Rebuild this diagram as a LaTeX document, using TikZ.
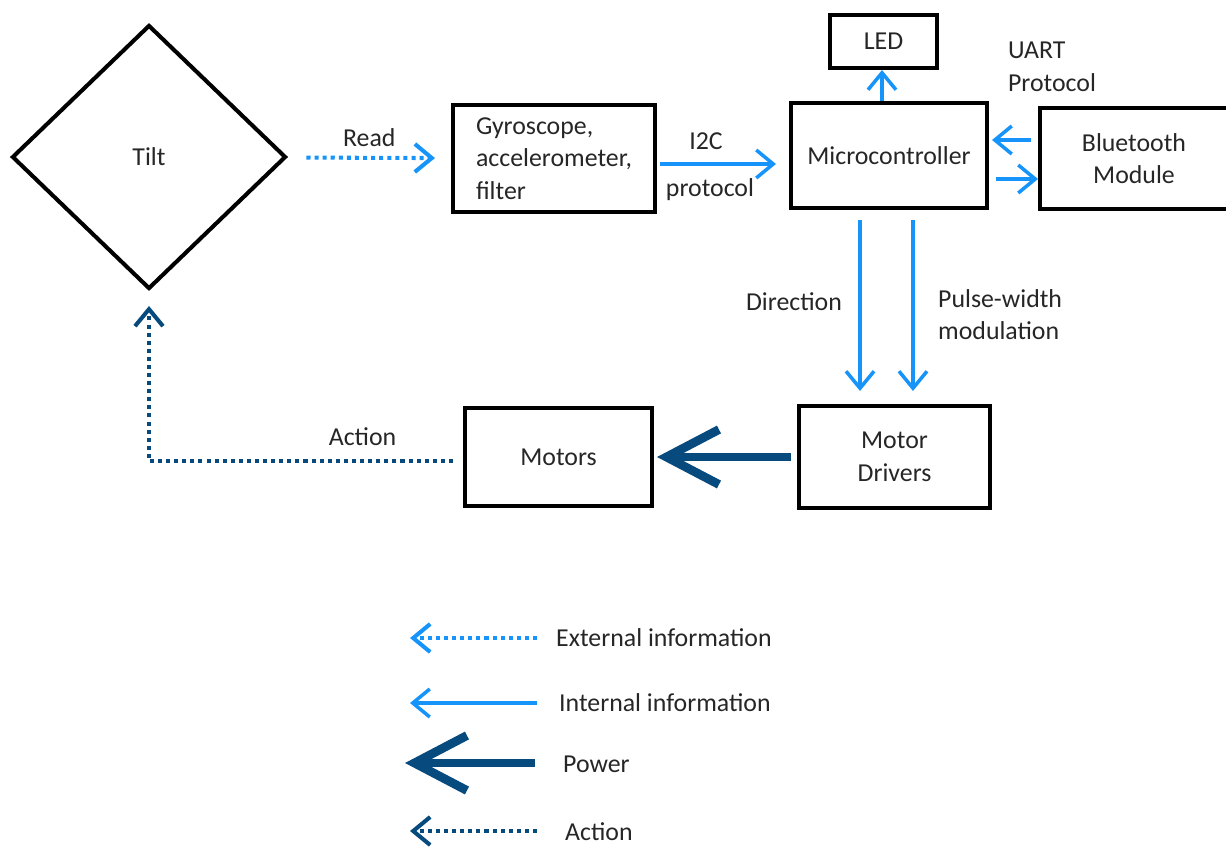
\documentclass[tikz,border=0pt]{standalone}
\usepackage{fontspec}
\setmainfont{Carlito}
\usepackage{tikz}
\usetikzlibrary{arrows.meta,positioning,shapes.geometric}
\definecolor{lightb}{RGB}{22,148,250}
\definecolor{darkb}{RGB}{6,74,126}
\tikzset{font=\fontsize{14.7}{18.5}\selectfont}
\tikzstyle{blk}=[draw=black,line width=2.3pt,rectangle,text=black!85,inner sep=0pt]
\tikzstyle{diam}=[draw=black,line width=2.3pt,diamond,text=black!85,inner sep=0pt,minimum width=5.48cm,minimum height=5.28cm]
\tikzstyle{lbl}=[text=black!85]
\tikzstyle{intarrow}=[draw=lightb,line width=2pt,-{Straight Barb[length=0.34cm,width=0.56cm]}]
\tikzstyle{extarrow}=[intarrow,dash pattern=on 2.3pt off 2.3pt,line width=2.3pt]
\tikzstyle{powarrow}=[draw=darkb,line width=5pt,-{Straight Barb[length=1.05cm,width=1.1cm]}]
\tikzstyle{actarrow}=[draw=darkb,line width=2.3pt,dash pattern=on 2.3pt off 2.3pt,-{Straight Barb[length=0.34cm,width=0.56cm]}]

\begin{document}
\begin{tikzpicture}[x=0.02cm,y=-0.02cm]
\useasboundingbox (0,0) rectangle (1226,848);
\node[diam] (tilt) at (149,157) {Tilt};
\node[blk,minimum width=4.04cm,minimum height=2.14cm,align=left] (gyro) at (554,158.5) {Gyroscope,\\accelerometer,\\filter};
\node[blk,minimum width=3.92cm,minimum height=2.1cm] (micro) at (889,155.5) {Microcontroller};
\node[blk,minimum width=2.14cm,minimum height=1.06cm] (led) at (883.5,41.5) {LED};
\node[blk,minimum width=3.76cm,minimum height=2.02cm,align=center] (bt) at (1134,158.5) {Bluetooth\\Module};
\node[blk,minimum width=3.82cm,minimum height=2.04cm,align=center] (drv) at (894.5,457) {Motor\\Drivers};
\node[blk,minimum width=3.74cm,minimum height=1.96cm] (motors) at (558.5,457) {Motors};
\node[lbl,align=left] (uart) at (1052,67) {UART\\Protocol};

%\node (legend) at (600,600) {};
\path[extarrow] (tilt) edge[shorten <=0.38cm,shorten >=0.32cm] node[lbl,above=2pt]{Read} (gyro);
\draw[intarrow,shorten <=0.06cm,shorten >=0.26cm] ([yshift=-0.11cm]gyro.east) coordinate (i2c)
  -- node[lbl,above=4pt,xshift=-0.34cm]{I2C} node[lbl,below=4pt,xshift=-0.26cm]{protocol} (i2c -| micro.west);
\draw[intarrow] ([xshift=-0.14cm]micro.north) -- ([xshift=-0.14cm]micro.north |- led.south);
\draw[intarrow,shorten <=0.14cm,shorten >=0.06cm] ([yshift=0.31cm]micro.east -| bt.west) coordinate (bt1) -- (bt1 -| micro.east);
\draw[intarrow,shorten <=0.14cm] ([yshift=-0.47cm]micro.east) coordinate (bt2) -- (bt2 -| bt.west);
\draw[intarrow,shorten <=0.2cm,shorten >=0.26cm] ([xshift=-0.58cm]micro.south) coordinate (dir)
  -- node[lbl,left=6pt,pos=0.47]{Direction} (dir |- drv.north);
\draw[intarrow,shorten <=0.2cm,shorten >=0.26cm] ([xshift=0.48cm]micro.south) coordinate (pwm)
  -- node[lbl,right=10pt,pos=0.54,align=left]{Pulse-width\\modulation} (pwm |- drv.north);
\draw[powarrow,shorten <=0.12cm,shorten >=0.06cm] (drv.west) -- (motors.east);
\draw[actarrow,shorten <=0.2cm,shorten >=0.3cm] ([yshift=-0.08cm]motors.west)
  -| node[lbl,above=4pt,pos=0.16]{Action} (tilt.south);

% legend
\coordinate (e1) at (537,638); \coordinate (e2) at (410,638);
\coordinate (i1) at (537,703); \coordinate (i2) at (410,703);
\coordinate (p1) at (535,763); \coordinate (p2) at (405,763);
\coordinate (a1) at (537,831); \coordinate (a2) at (410,831);
\draw[extarrow] (e1) -- (e2);
\draw[intarrow] (i1) -- (i2);
\draw[powarrow] (p1) -- (p2);
\draw[actarrow] (a1) -- (a2);
\node[lbl,right] (elab) at (550,638) {External information};
\node[lbl,right] (ilab) at (553,703) {Internal information};
\node[lbl,right] (plab) at (557,764) {Power};
\node[lbl,right] (alab) at (559,832) {Action};
\end{tikzpicture}
\end{document}
